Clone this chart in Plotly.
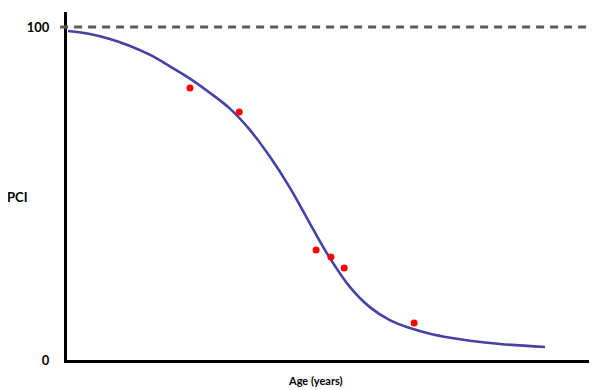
import plotly.graph_objects as go

# Fitted deterioration curve (age, PCI)
curve_age = [0.2, 4.3, 8.1, 11.9, 15.7, 19.4, 23.2, 27.0, 30.8, 34.5, 38.3, 42.1,
             45.9, 49.6, 53.4, 57.2, 60.9, 64.7, 68.5, 72.3, 76.0, 81.7, 90.2]
curve_pci = [98.8, 97.9, 96.4, 94.3, 91.6, 88.2, 84.5, 80.2, 75.4, 69.1, 61.0, 51.6,
             40.8, 30.6, 21.9, 15.8, 12.0, 9.6, 7.9, 6.7, 5.8, 4.8, 3.9]

# Observed points
obs_age = [23.2, 32.5, 47.0, 49.8, 52.3, 65.5]
obs_pci = [81.7, 74.5, 33.0, 30.9, 27.6, 11.1]

y_ticks = [0, 100]
y_ticktext = ["0", "100"]
max_pci = 100

fig = go.Figure()
fig.add_trace(go.Scatter(x=curve_age, y=curve_pci, mode="lines",
                         line=dict(color="#4343a3", width=2.6, shape="spline", smoothing=1.0),
                         hoverinfo="skip", showlegend=False))
fig.add_trace(go.Scatter(x=obs_age, y=obs_pci, mode="markers",
                         marker=dict(color="#ff0000", size=7, line=dict(width=0)),
                         showlegend=False))

fig.add_shape(type="line", xref="paper", yref="y", x0=-0.013, x1=1,
              y0=max_pci, y1=max_pci,
              line=dict(color="#5a5a5a", width=3, dash="8px,6px"))

fig.add_annotation(text="<b>PCI</b>", xref="paper", yref="y", x=-0.07, y=49,
                   xanchor="right", yanchor="middle", showarrow=False,
                   font=dict(family="Lato", size=13, color="black"))
fig.add_annotation(text="<b>Age (years)</b>", xref="x", yref="paper", x=46.8, y=-0.06,
                   xanchor="center", yanchor="middle", showarrow=False,
                   font=dict(family="Lato", size=11, color="black"))

fig.update_xaxes(range=[0, 100], showgrid=False, zeroline=False, showticklabels=False,
                 showline=True, linecolor="black", linewidth=3, ticks="")
fig.update_yaxes(range=[0, 104.5], showgrid=False, zeroline=False,
                 tickvals=y_ticks, ticktext=y_ticktext, ticks="",
                 ticklabelstandoff=12,
                 tickfont=dict(family="Lato", size=13, color="black", weight="bold"),
                 showline=True, linecolor="black", linewidth=3)

# page body has an 8px margin, so the figure is sized/offset to compensate
fig.update_layout(width=589, height=382, margin=dict(l=59, r=0, t=4, b=30),
                  plot_bgcolor="white", paper_bgcolor="white")

fig.write_html("out.html")
